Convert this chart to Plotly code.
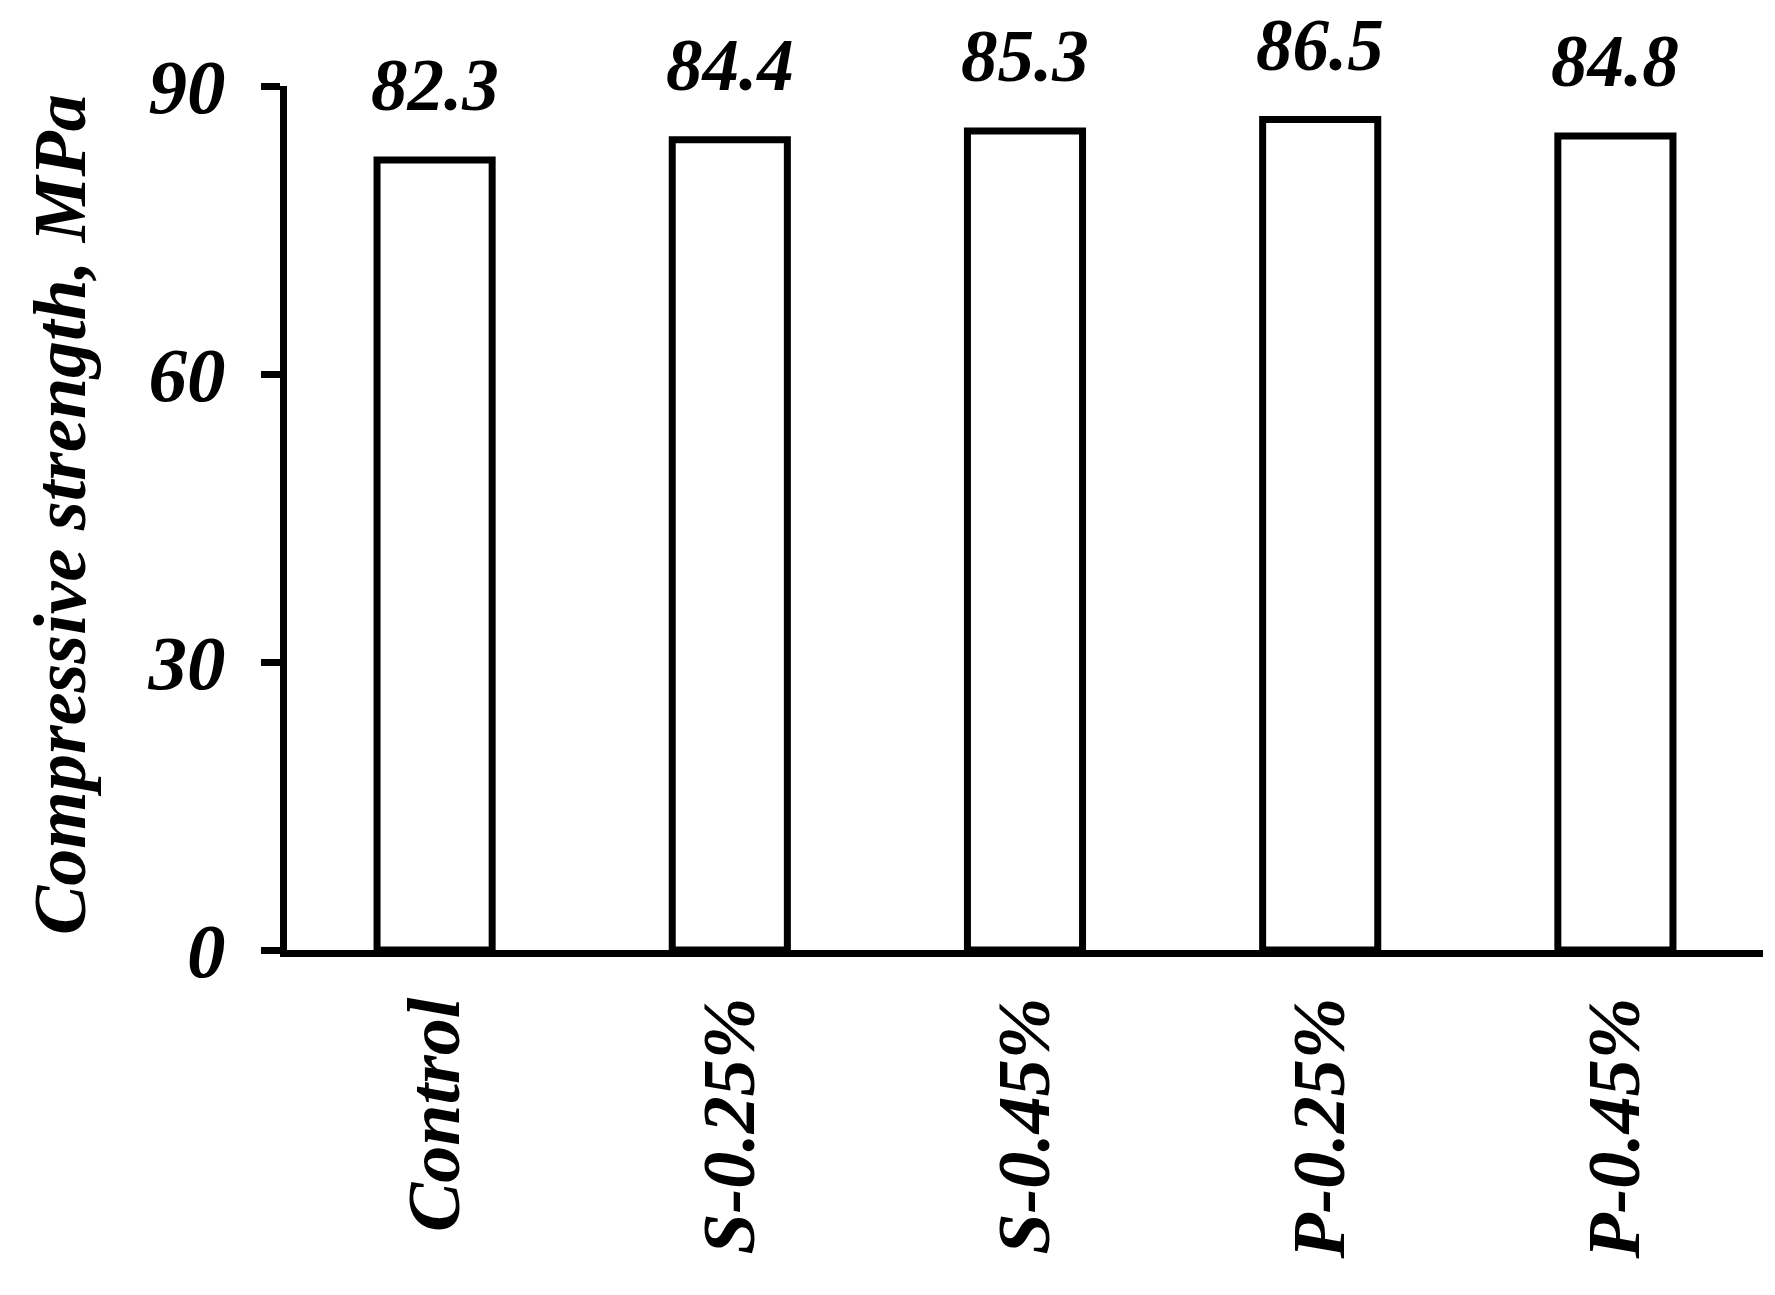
import plotly.graph_objects as go

categories = ["Control", "S-0.25%", "S-0.45%", "P-0.25%", "P-0.45%"]
strength = [82.3, 84.4, 85.3, 86.5, 84.8]
label_text = ["82.3", "84.4", "85.3", "86.5", "84.8"]
y_ticks = [0, 30, 60, 90]
y_title = "Compressive strength, MPa"

FONT = "Times New Roman, Liberation Serif, serif"


def bi(size):
    return dict(family=FONT, size=size, color="black", style="italic", weight="bold")


fig = go.Figure()
fig.add_trace(go.Bar(
    x=categories, y=strength,
    width=0.39,
    marker=dict(color="white", line=dict(color="black", width=7)),
    showlegend=False,
))

for c, v, t in zip(categories, strength, label_text):
    fig.add_annotation(x=c, y=v, text=t, showarrow=False, yanchor="bottom",
                       yshift=32, xref="x", yref="y", font=bi(73))

fig.add_annotation(x=0, y=0.5, xref="paper", yref="paper", text=y_title,
                   textangle=-90, showarrow=False, xanchor="center",
                   yanchor="middle", xshift=-227, yshift=3, font=bi(74))

fig.update_layout(
    width=1775, height=1295,
    margin=dict(l=279, r=20, t=78, b=353, autoexpand=False),
    plot_bgcolor="white", paper_bgcolor="white",
    xaxis=dict(
        showline=True, linecolor="black", linewidth=7,
        ticks="", tickangle=-90, automargin=False,
        range=[-0.5, 4.5],
        tickfont=bi(74),
        ticklabelstandoff=11,
        showgrid=False, zeroline=False,
    ),
    yaxis=dict(
        range=[0, 90], tickvals=y_ticks, ticktext=[str(v) for v in y_ticks],
        showline=True, linecolor="black", linewidth=7, automargin=False,
        ticks="outside", ticklen=19, tickwidth=7, tickcolor="black",
        tickfont=bi(77), ticklabelstandoff=20,
        showgrid=False, zeroline=False,
    ),
)

fig.write_html("out.html")
